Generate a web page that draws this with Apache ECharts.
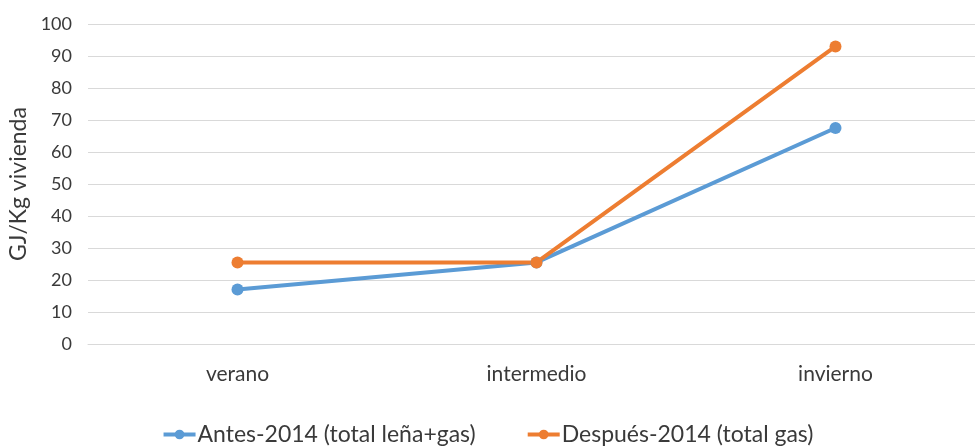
<!DOCTYPE html>
<html>
<head>
<meta charset="utf-8">
<script src="https://cdn.jsdelivr.net/npm/echarts@6/dist/echarts.min.js"></script>
<style>
  html, body { margin: 0; padding: 0; background: #fff; }
  #chart { width: 975px; height: 446px; }
</style>
</head>
<body>
<div id="chart"></div>
<script>
// datos
var categorias = ['verano', 'intermedio', 'invierno']
var antes2014 = [17, 25.5, 67.5]
var despues2014 = [25.5, 25.5, 93]
var nombres = ['Antes-2014 (total leña+gas)', 'Después-2014 (total gas)']

var fuente = 'Lato, "Open Sans", sans-serif'
var texto = '#3a3a3a'

var myChart = echarts.init(document.getElementById('chart'))
var option = {
  animation: false,
  textStyle: { fontFamily: fuente },
  grid: { left: 88, top: 24, width: 897, height: 320, outerBoundsMode: 'none', containLabel: false },
  legend: {
    top: 418,
    left: 'center',
    itemWidth: 32,
    itemHeight: 12,
    itemGap: 50,
    lineStyle: { width: 4 },
    textStyle: { color: texto, fontSize: 23, fontFamily: fuente, padding: [0, 0, 0, -3] },
    data: nombres
  },
  xAxis: {
    type: 'category',
    data: categorias,
    boundaryGap: true,
    axisLine: { lineStyle: { color: '#D9D9D9', width: 1 } },
    axisTick: { show: false },
    axisLabel: { color: texto, fontSize: 21, margin: 20, fontFamily: fuente }
  },
  yAxis: {
    type: 'value',
    min: 0,
    max: 100,
    interval: 10,
    name: 'GJ/Kg vivienda',
    nameLocation: 'middle',
    nameGap: 57,
    nameTextStyle: { color: texto, fontSize: 23, fontFamily: fuente },
    axisLine: { show: false },
    axisTick: { show: false },
    axisLabel: { color: texto, fontSize: 18, margin: 16, fontFamily: fuente },
    splitLine: { lineStyle: { color: '#D9D9D9', width: 1 } }
  },
  series: [
    {
      name: nombres[0],
      type: 'line',
      data: antes2014,
      symbol: 'circle',
      symbolSize: 12,
      lineStyle: { color: '#5B9BD5', width: 4 },
      itemStyle: { color: '#5B9BD5' }
    },
    {
      name: nombres[1],
      type: 'line',
      data: despues2014,
      symbol: 'circle',
      symbolSize: 12,
      lineStyle: { color: '#ED7D31', width: 4 },
      itemStyle: { color: '#ED7D31' }
    }
  ]
}
myChart.setOption(option)
</script>
</body>
</html>
